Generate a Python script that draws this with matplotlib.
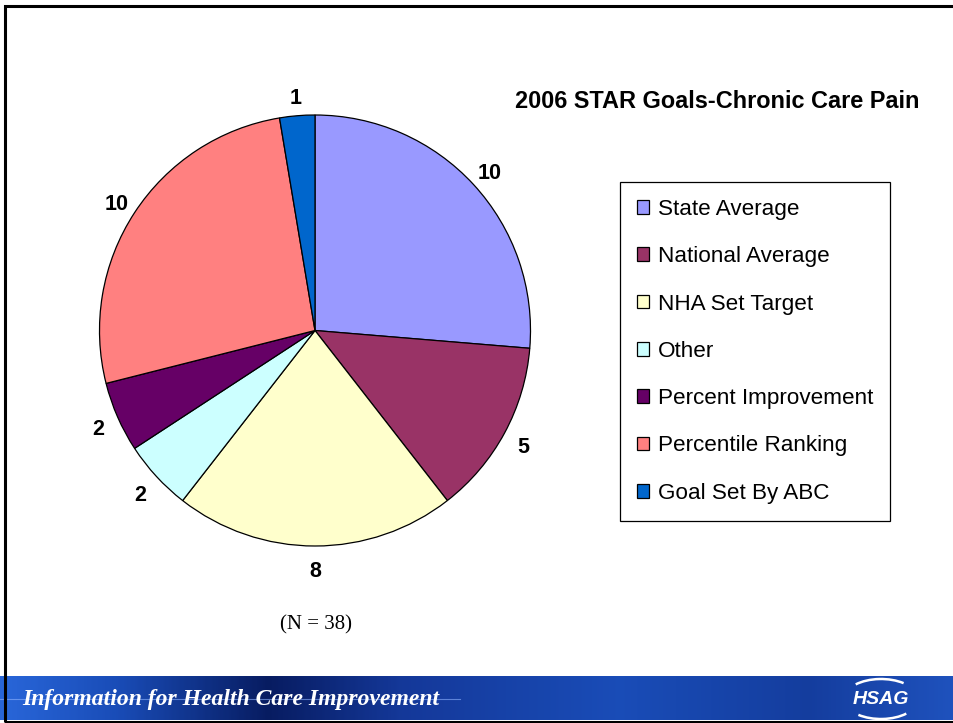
import numpy as np
import matplotlib
matplotlib.use("Agg")
import matplotlib.pyplot as plt
from matplotlib.patches import Rectangle, Arc
from matplotlib.colors import LinearSegmentedColormap

# data
categories = ["State Average", "National Average", "NHA Set Target", "Other",
              "Percent Improvement", "Percentile Ranking", "Goal Set By ABC"]
counts = [10, 5, 8, 2, 2, 10, 1]
colors = ["#9999FF", "#993366", "#FFFFCC", "#CCFFFF", "#660066", "#FF8080", "#0066CC"]
title = "2006 STAR Goals-Chronic Care Pain"
note = "(N = 38)"
banner_text = "Information for Health Care Improvement"

W, H = 954, 723
fig = plt.figure(figsize=(W / 100, H / 100), dpi=100)
ax = fig.add_axes([0, 0, 1, 1])

# pie (pixel coordinates, y measured from bottom)
wedges, texts = ax.pie(counts, colors=colors, labels=[str(c) for c in counts],
                       startangle=90, counterclock=False,
                       center=(315, H - 330.5), radius=215.5,
                       labeldistance=1.10,
                       wedgeprops=dict(edgecolor="black", linewidth=0.9),
                       textprops=dict(fontsize=15.5, fontweight="bold",
                                      family="Liberation Sans"))
for t in texts:
    x, y = t.get_position()
    t.set_position((x, y - 4))
    t.set_ha("center")
    t.set_va("center")

ax.set_xlim(0, W)
ax.set_ylim(0, H)
ax.set_aspect("auto")
ax.axis("off")

ax.text(717, H - 101, title, ha="center", va="center", fontsize=16.9,
        fontweight="bold", family="Liberation Sans")
ax.text(316, H - 625, note, ha="center", va="center", fontsize=15,
        family="Liberation Serif")

leg = fig.legend(wedges, categories, loc="upper left",
                 bbox_to_anchor=(620 / W, 1 - 182 / H),
                 prop=dict(family="Liberation Sans", size=16.2),
                 frameon=True, fancybox=False, edgecolor="black",
                 framealpha=1, borderaxespad=0, borderpad=0.75,
                 handlelength=0.55, handleheight=0.55, handletextpad=0.38,
                 labelspacing=1.17)
leg.get_frame().set_linewidth(0.9)

# banner at the bottom
stops = [(0.0, (0.16, 0.40, 0.85)), (0.12, (0.10, 0.30, 0.72)),
         (0.28, (0.03, 0.11, 0.38)), (0.42, (0.08, 0.22, 0.60)),
         (0.65, (0.10, 0.30, 0.72)), (0.85, (0.08, 0.24, 0.62)),
         (1.0, (0.12, 0.32, 0.74))]
cmap = LinearSegmentedColormap.from_list("banner", stops)
grad = np.tile(np.linspace(0, 1, 400), (20, 1))
ax.imshow(grad, cmap=cmap, extent=[0, W, H - 720, H - 676], aspect="auto",
          interpolation="bilinear", zorder=1)
ax.plot([0, 460], [H - 699, H - 699], color="#8fb4ff", lw=0.8, alpha=0.6, zorder=2)
ax.text(22, H - 699, banner_text, ha="left", va="center", color="white",
        fontsize=17, style="italic", fontweight="bold",
        family="Liberation Serif", zorder=3)
ax.text(881, H - 700, "HSAG", ha="center", va="center", color="white",
        fontsize=14, fontweight="bold", style="italic",
        family="Liberation Sans", zorder=3)
ax.add_patch(Arc((881, H - 699), 74, 40, theta1=35, theta2=150,
                 color="white", lw=1.8, zorder=3))
ax.add_patch(Arc((881, H - 699), 74, 40, theta1=215, theta2=330,
                 color="white", lw=1.8, zorder=3))

# slide frame
ax.add_patch(Rectangle((5.5, 1.5), W - 4, H - 7, fill=False,
                       edgecolor="black", lw=2.2, zorder=4))

fig.savefig("out.png", dpi=100)
